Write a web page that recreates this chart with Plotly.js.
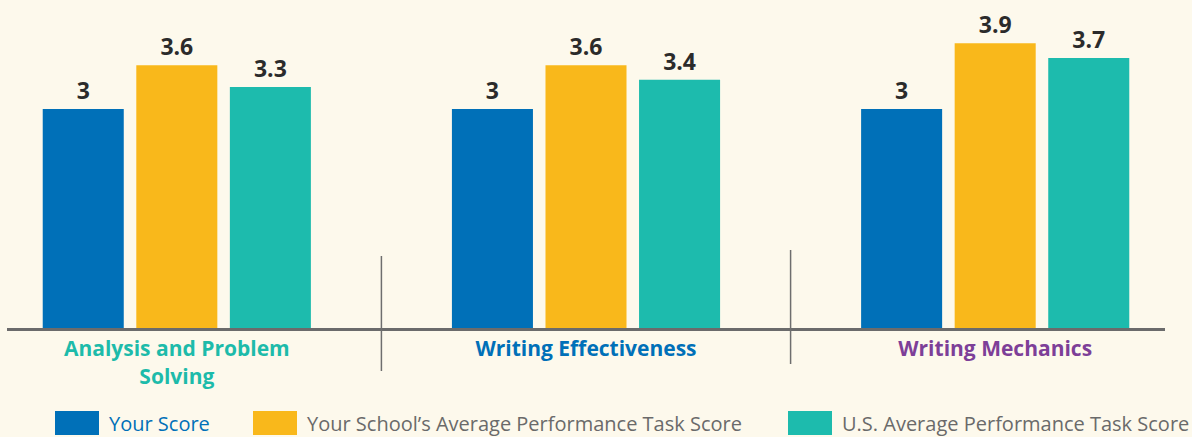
<!DOCTYPE html>
<html>
<head>
<meta charset="utf-8">
<script src="https://cdn.plot.ly/plotly-3.0.1.min.js"></script>
<style>
  html, body { margin: 0; padding: 0; background: #FDF9EC; }
  #chart { width: 1192px; height: 437px; }
</style>
</head>
<body>
<div id="chart"></div>
<script>
// ---- Data ----
const categories = ['Analysis and Problem Solving', 'Writing Effectiveness', 'Writing Mechanics'];
const tickLabels = ['Analysis and Problem<br>Solving', 'Writing Effectiveness', 'Writing Mechanics'];
const seriesNames = ['Your Score', 'Your School\u2019s Average Performance Task Score', 'U.S. Average Performance Task Score'];
const yourScore = [3, 3, 3];
const schoolAverage = [3.6, 3.6, 3.9];
const usAverage = [3.3, 3.4, 3.7];

// ---- Styles ----
const seriesColors = ['#0070B8', '#F9B81B', '#1DBBAD'];
const categoryColors = ['#1DBBAA', '#0070B8', '#7D3F98'];
const legendTextColors = ['#0070B8', '#6A6A6A', '#6A6A6A'];
const bg = '#FDF9EC';

const W = 1192, H = 437;
const M = { l: 7, r: 27, t: 10, b: 109 };
const plotW = W - M.l - M.r, plotH = H - M.t - M.b;
const px = x => (x - M.l) / plotW;
const py = y => (H - M.b - y) / plotH;

const allValues = [yourScore, schoolAverage, usAverage];
const traces = allValues.map((vals, i) => ({
  type: 'bar',
  name: seriesNames[i],
  x: categories,
  y: vals,
  marker: { color: seriesColors[i] },
  text: vals.map(v => String(v)),
  textposition: 'outside',
  textfont: { family: 'Open Sans', size: 23, color: '#2B2B2B', weight: 'bold' },
  constraintext: 'none',
  cliponaxis: false,
  hoverinfo: 'x+y',
  showlegend: false
}));

// legend layout (pixel positions)
const legendSwatchX = [55, 253, 788];
const swW = 44, swTop = 411, swBot = 435;

const shapes = [
  { type: 'line', xref: 'x', yref: 'paper', x0: 0.5, x1: 0.5, y0: py(256), y1: py(371),
    line: { color: '#6E6E6E', width: 1.5 } },
  { type: 'line', xref: 'x', yref: 'paper', x0: 1.5, x1: 1.5, y0: py(250), y1: py(364),
    line: { color: '#6E6E6E', width: 1.5 } }
];
const annotations = [];
seriesNames.forEach((name, i) => {
  const x0 = legendSwatchX[i];
  shapes.push({ type: 'rect', xref: 'paper', yref: 'paper',
    x0: px(x0), x1: px(x0 + swW), y0: py(swBot), y1: py(swTop),
    fillcolor: seriesColors[i], line: { width: 0 } });
  annotations.push({ xref: 'paper', yref: 'paper', x: px(x0 + swW + 8), y: py((swTop + swBot) / 2),
    xanchor: 'left', yanchor: 'middle', showarrow: false, text: name,
    font: { family: 'Open Sans', size: 20, color: legendTextColors[i] } });
});

const layout = {
  width: W, height: H,
  margin: M,
  paper_bgcolor: bg, plot_bgcolor: bg,
  barmode: 'group',
  bargap: 0.314,
  bargroupgap: 0.134,
  showlegend: false,
  font: { family: 'Open Sans' },
  xaxis: {
    type: 'category',
    range: [-0.415, 2.415],
    tickvals: categories,
    ticktext: tickLabels.map((t, i) => `<span style="color:${categoryColors[i]}">${t}</span>`),
    tickfont: { family: 'Open Sans', size: 21, weight: 'bold' },
    showline: true, linecolor: '#6B6B6B', linewidth: 3,
    ticks: '', showgrid: false, zeroline: false, fixedrange: true
  },
  yaxis: {
    range: [0, plotH / 73],
    visible: false, showgrid: false, zeroline: false, fixedrange: true
  },
  shapes: shapes,
  annotations: annotations
};

Plotly.newPlot('chart', traces, layout, { displayModeBar: false, staticPlot: true });
</script>
</body>
</html>
